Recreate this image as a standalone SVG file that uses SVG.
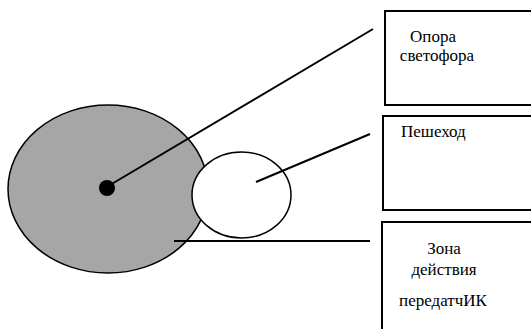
<svg xmlns="http://www.w3.org/2000/svg" width="531" height="329" viewBox="0 0 531 329">
<defs>
<style>
.ln{stroke:#000;stroke-width:2;fill:none}
.box{stroke:#000;stroke-width:2;fill:none}
.c{text-anchor:middle}
</style>
</defs>
<rect width="531" height="329" fill="#fff"/>
<g id="zone">
<ellipse cx="108" cy="189" rx="100" ry="84" fill="#a6a6a6" stroke="#000" stroke-width="1.5"/>
</g>
<g id="pedestrian">
<ellipse cx="241.5" cy="195" rx="49.5" ry="43" fill="#fff" stroke="#000" stroke-width="1.5"/>
</g>
<g id="pole">
<circle cx="107" cy="188" r="8" fill="#000"/>
</g>
<g id="connectors">
<line class="ln" x1="110" y1="185" x2="373" y2="29"/>
<line class="ln" x1="256" y1="182" x2="370" y2="134"/>
<line class="ln" x1="174" y1="241" x2="370" y2="241"/>
</g>
<g font-family="'Liberation Serif', 'Times New Roman', serif" font-size="17" fill="#000">
<g id="label-pole">
<path class="box" d="M531,11 H385 V105 H531"/>
<text class="c" x="433" y="42">Опора</text>
<text class="c" x="437" y="61">светофора</text>
</g>
<g id="label-pedestrian">
<path class="box" d="M531,116 H383 V210 H531"/>
<text x="401" y="137">Пешеход</text>
</g>
<g id="label-zone">
<path class="box" d="M531,222 H382 V329"/>
<text class="c" x="444" y="254">Зона</text>
<text class="c" x="444" y="275">действия</text>
<text class="c" x="443" y="306">передатчИК</text>
</g>
</g>
</svg>
